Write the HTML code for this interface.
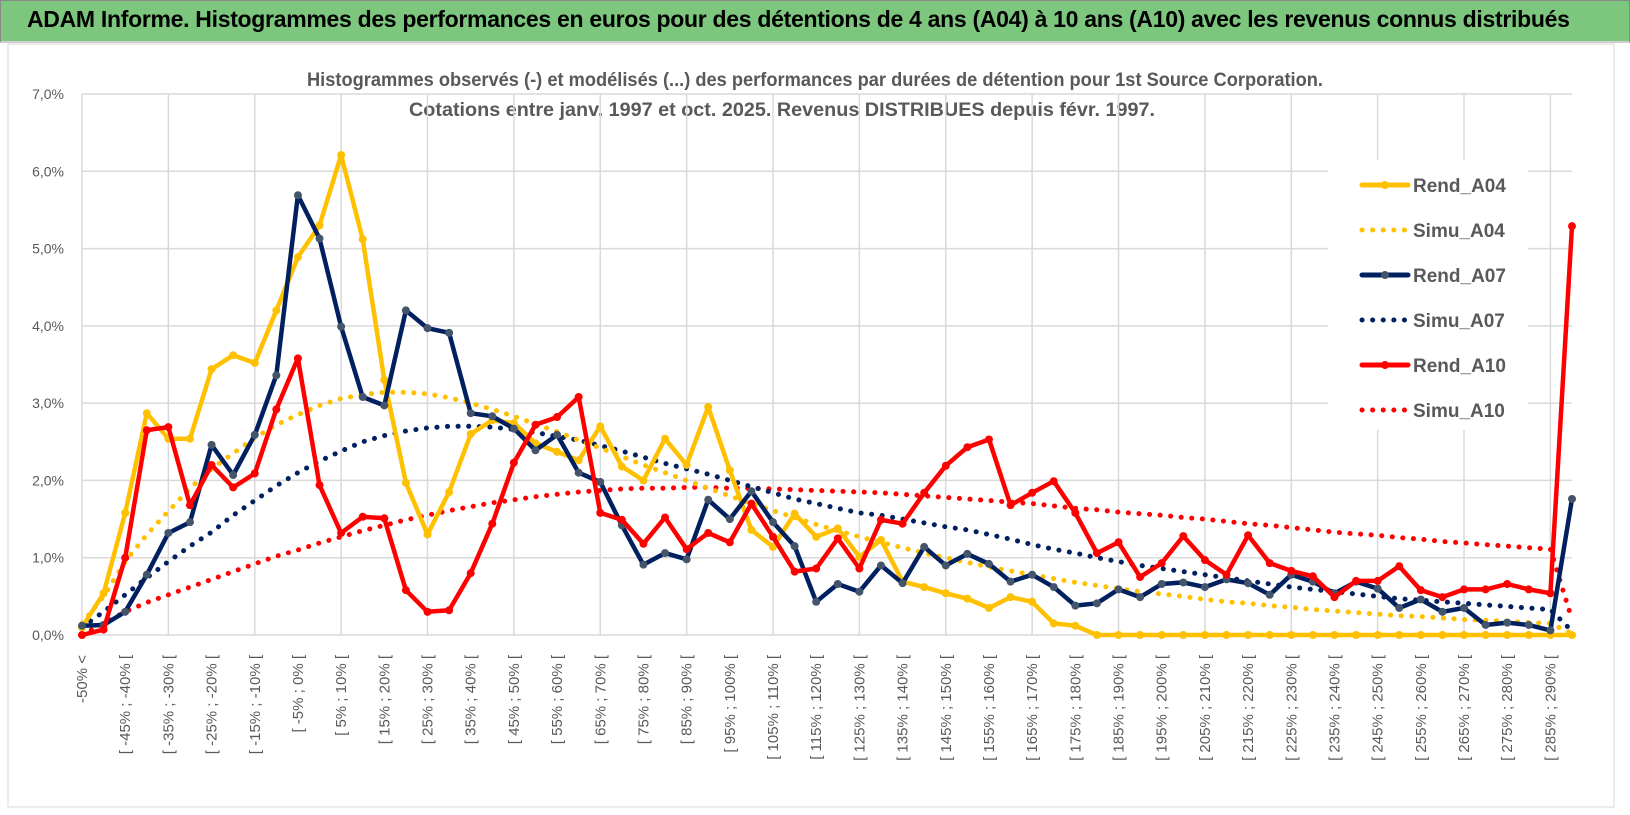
<!DOCTYPE html>
<html><head><meta charset="utf-8"><style>
html,body{margin:0;padding:0;background:#fff;}
body{width:1630px;height:815px;overflow:hidden;font-family:"Liberation Sans",sans-serif;}
#hdr{position:absolute;left:0;top:0;width:1628px;height:40px;background:#7dc67e;border:1px solid #888;border-bottom:2px solid #cfcfcf;}
#hdr span{position:absolute;left:26px;top:5px;font-size:23px;font-weight:bold;color:#000;letter-spacing:-0.3px;white-space:nowrap;}
svg{position:absolute;left:0;top:0;}
</style></head><body>
<div id="hdr"><span>ADAM Informe. Histogrammes des performances en euros pour des détentions de 4 ans (A04) à 10 ans (A10) avec les revenus connus distribués</span></div>
<svg id="chart" width="1630" height="815"></svg>
<script>
const categories=["-50% <"];
for(let a=-50;a<295;a+=5){categories.push("[ "+a+"% ; "+(a+5)+"% [");}
categories.length=70;
const rendA04=[0.1,0.54,1.58,2.87,2.54,2.54,3.44,3.62,3.52,4.2,4.89,5.3,6.21,5.12,3.3,1.97,1.3,1.85,2.6,2.78,2.74,2.48,2.37,2.26,2.7,2.18,2.0,2.54,2.2,2.95,2.13,1.36,1.14,1.57,1.27,1.38,1.01,1.23,0.69,0.62,0.54,0.47,0.35,0.49,0.43,0.15,0.12,0,0,0,0,0,0,0,0,0,0,0,0,0,0,0,0,0,0,0,0,0,0,0];
const simuA04=[0.15,0.5,0.95,1.3,1.6,1.9,2.15,2.35,2.55,2.72,2.85,2.97,3.06,3.11,3.14,3.14,3.12,3.07,3.0,2.92,2.83,2.73,2.63,2.52,2.42,2.31,2.2,2.1,2.0,1.9,1.8,1.7,1.61,1.52,1.43,1.35,1.27,1.2,1.13,1.06,1.0,0.94,0.88,0.83,0.78,0.73,0.68,0.64,0.6,0.56,0.53,0.5,0.46,0.43,0.41,0.38,0.36,0.33,0.31,0.29,0.27,0.25,0.24,0.22,0.2,0.19,0.18,0.16,0.15,0.02];
const rendA07=[0.12,0.13,0.3,0.78,1.32,1.46,2.46,2.07,2.59,3.36,5.69,5.13,3.99,3.08,2.97,4.2,3.97,3.91,2.87,2.83,2.67,2.39,2.59,2.1,1.98,1.42,0.91,1.06,0.98,1.75,1.5,1.86,1.46,1.15,0.43,0.66,0.56,0.9,0.67,1.14,0.9,1.05,0.92,0.69,0.78,0.62,0.38,0.41,0.59,0.49,0.66,0.68,0.62,0.72,0.67,0.52,0.78,0.69,0.54,0.69,0.6,0.35,0.46,0.3,0.35,0.13,0.16,0.13,0.06,1.76];
const simuA07=[0.1,0.3,0.52,0.74,0.95,1.15,1.33,1.55,1.74,1.93,2.1,2.25,2.38,2.5,2.58,2.64,2.68,2.7,2.7,2.69,2.66,2.62,2.57,2.52,2.45,2.38,2.3,2.22,2.15,2.08,2.0,1.92,1.84,1.76,1.7,1.64,1.58,1.55,1.5,1.45,1.4,1.36,1.3,1.24,1.17,1.11,1.06,1.0,0.95,0.9,0.86,0.82,0.78,0.74,0.7,0.66,0.62,0.59,0.56,0.53,0.5,0.47,0.45,0.43,0.41,0.39,0.37,0.35,0.33,0.05];
const rendA10=[0.0,0.07,1.0,2.65,2.69,1.68,2.2,1.91,2.09,2.92,3.58,1.94,1.32,1.53,1.51,0.58,0.3,0.32,0.8,1.44,2.23,2.72,2.82,3.08,1.58,1.49,1.18,1.52,1.11,1.32,1.2,1.7,1.27,0.82,0.86,1.25,0.86,1.49,1.44,1.84,2.19,2.43,2.53,1.68,1.84,1.99,1.58,1.06,1.2,0.75,0.93,1.28,0.97,0.78,1.29,0.93,0.83,0.76,0.49,0.7,0.7,0.89,0.58,0.49,0.59,0.59,0.66,0.59,0.54,5.29];
const simuA10=[0.0,0.15,0.3,0.42,0.52,0.62,0.72,0.82,0.92,1.02,1.1,1.19,1.27,1.35,1.42,1.49,1.55,1.61,1.66,1.71,1.75,1.79,1.82,1.85,1.87,1.89,1.9,1.9,1.91,1.91,1.9,1.9,1.89,1.88,1.87,1.86,1.85,1.84,1.82,1.8,1.78,1.76,1.74,1.72,1.7,1.67,1.64,1.62,1.59,1.57,1.55,1.52,1.5,1.47,1.44,1.42,1.39,1.36,1.33,1.31,1.29,1.26,1.24,1.21,1.19,1.17,1.15,1.13,1.11,0.2];
const yTicks=[0,1,2,3,4,5,6,7];
const yTickLabels=["0,0%","1,0%","2,0%","3,0%","4,0%","5,0%","6,0%","7,0%"];
const legendNames=["Rend_A04","Simu_A04","Rend_A07","Simu_A07","Rend_A10","Simu_A10"];

const NS="http://www.w3.org/2000/svg";
const svg=document.getElementById('chart');
const X0=82,X1=1572,Y0=635,Y1=94,YMAX=7;
const xs=i=>X0+i*(X1-X0)/(categories.length-1);
const ys=v=>Y0-v*(Y0-Y1)/YMAX;
function mk(t,a,p){const e=document.createElementNS(NS,t);for(const k in a)e.setAttribute(k,a[k]);(p||svg).appendChild(e);return e;}

const frame=mk('rect',{x:8,y:44,width:1606,height:763,fill:'#fff',stroke:'#d9d9d9','stroke-width':1});



const t1=mk('text',{x:815,y:86,'text-anchor':'middle','font-size':19,'font-weight':'bold',fill:'#595959',textLength:1016,lengthAdjust:'spacingAndGlyphs'});
t1.textContent="Histogrammes observés (-) et modélisés (...) des performances par durées de détention pour 1st Source Corporation.";


const t2=mk('text',{x:782,y:116,'text-anchor':'middle','font-size':19,'font-weight':'bold',fill:'#595959',textLength:746,lengthAdjust:'spacingAndGlyphs'});
t2.textContent="Cotations entre janv. 1997 et oct. 2025. Revenus DISTRIBUES depuis févr. 1997.";



const grid=mk('g',{});


yTicks.forEach((v,i)=>{
  mk('line',{x1:X0,x2:X1,y1:ys(v),y2:ys(v),stroke:'#d9d9d9','stroke-width':1.5},grid);
  const lb=mk('text',{x:64,y:ys(v)+5,'text-anchor':'end','font-size':14,fill:'#595959'});
  lb.textContent=yTickLabels[i];
  
  
});
for(let i=0;i<categories.length;i+=4){mk('line',{x1:xs(i),x2:xs(i),y1:Y1,y2:Y0,stroke:'#d9d9d9','stroke-width':1.5},grid);}
for(let i=0;i<categories.length;i+=2){
  const lb=mk('text',{transform:`translate(${xs(i)+5},655) rotate(-90)`,'text-anchor':'end','font-size':15,fill:'#595959'});
  lb.textContent=categories[i];
  
  
}

const lgbg=mk('rect',{x:1328,y:160,width:200,height:270,fill:'#fff'});



function pts(arr){return arr.map((v,i)=>xs(i).toFixed(1)+','+ys(v).toFixed(1)).join(' ');}
function solid(arr,color,mcol,name){
  const g=mk('g',{});
  
  
  mk('polyline',{points:pts(arr),fill:'none',stroke:color,'stroke-width':4.5,'stroke-linejoin':'round'},g);
  arr.forEach((v,i)=>{const c=mk('circle',{cx:xs(i),cy:ys(v),r:4,fill:mcol},g);
    
    });
}
function dotted(arr,color,name){
  const p=mk('polyline',{points:pts(arr),fill:'none',stroke:color,'stroke-width':5,'stroke-dasharray':'0.1 10.5','stroke-linecap':'round'});
  
  
}
dotted(simuA10,'#ff0000','series-simu-a10');
dotted(simuA07,'#002060','series-simu-a07');
dotted(simuA04,'#ffc000','series-simu-a04');
solid(rendA04,'#ffc000','#ffc000','series-rend-a04');
solid(rendA07,'#002060','#44546a','series-rend-a07');
solid(rendA10,'#ff0000','#ff0000','series-rend-a10');

const lcol=['#ffc000','#ffc000','#002060','#002060','#ff0000','#ff0000'];
const lmark=['#ffc000',null,'#44546a',null,'#ff0000',null];
legendNames.forEach((n,i)=>{
  const y=185+i*45;
  const g=mk('g',{});
  
  
  if(lmark[i]){mk('line',{x1:1362,x2:1408,y1:y,y2:y,stroke:lcol[i],'stroke-width':5,'stroke-linecap':'round'},g);
    mk('circle',{cx:1385,cy:y,r:4,fill:lmark[i]},g);}
  else mk('line',{x1:1362,x2:1408,y1:y,y2:y,stroke:lcol[i],'stroke-width':5,'stroke-dasharray':'0.1 10.5','stroke-linecap':'round'},g);
  const t=mk('text',{x:1413,y:y+7,'font-size':19,'font-weight':'bold',fill:'#595959'},g);
  t.textContent=n;
});
</script>
</body></html>
